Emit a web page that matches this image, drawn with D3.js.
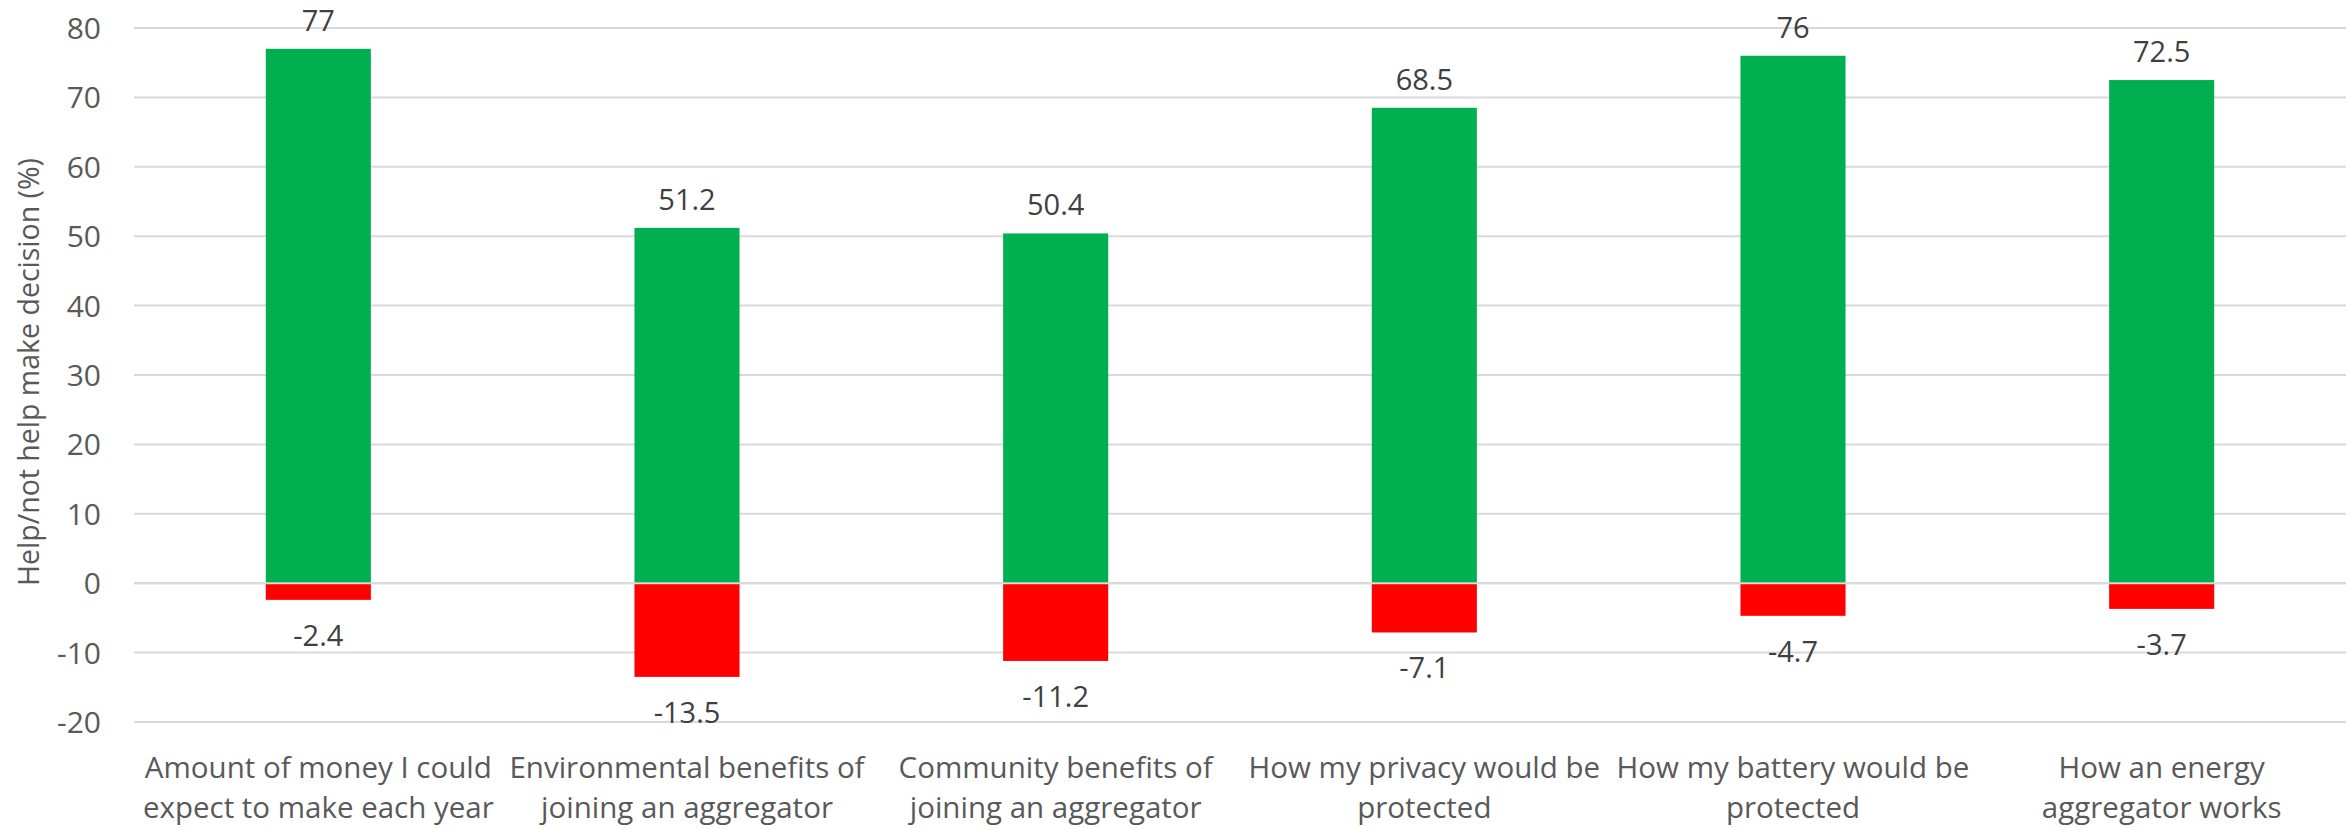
<!DOCTYPE html>
<html>
<head>
<meta charset="utf-8">
<script src="https://cdn.jsdelivr.net/npm/d3@7"></script>
<style>
  html, body { margin: 0; padding: 0; background: #fff; }
  svg { display: block; }
</style>
</head>
<body>
<svg id="chart" width="2351" height="829"></svg>
<script>
const categories = [
  "Amount of money I could\nexpect to make each year",
  "Environmental benefits of\njoining an aggregator",
  "Community benefits of\njoining an aggregator",
  "How my privacy would be\nprotected",
  "How my battery would be\nprotected",
  "How an energy\naggregator works"
];
const helpValues = [77, 51.2, 50.4, 68.5, 76, 72.5];
const notHelpValues = [-2.4, -13.5, -11.2, -7.1, -4.7, -3.7];
const yTicks = [-20, -10, 0, 10, 20, 30, 40, 50, 60, 70, 80];
const yTitle = "Help/not help make decision (%)";

(function () {
const FONT = "'Open Sans', 'Noto Sans', sans-serif";
const svg = d3.select("#chart");
const plotLeft = 134, plotRight = 2346, plotTop = 28, plotBottom = 722;

const x = d3.scaleBand().domain(categories).range([plotLeft, plotRight])
  .paddingInner(0.715).paddingOuter(0.3575);
const y = d3.scaleLinear().domain([-20, 80]).range([plotBottom, plotTop]);

// gridlines
svg.append("g").selectAll("line").data(yTicks).join("line")
  .attr("x1", plotLeft).attr("x2", plotRight)
  .attr("y1", d => y(d)).attr("y2", d => y(d))
  .attr("stroke", "#d9d9d9").attr("stroke-width", 2);

// y axis tick labels
const yAxis = d3.axisLeft(y).tickValues(yTicks).tickSize(0).tickPadding(0)
  .tickFormat(d => String(d));
const ya = svg.append("g").attr("transform", `translate(101,0)`).call(yAxis);
ya.select(".domain").remove();
ya.selectAll("text").attr("font-family", FONT).attr("font-size", 30)
  .attr("fill", "#595959").attr("dy", "0.35em");

// y title
svg.append("text")
  .attr("transform", `translate(28,372) rotate(-90)`)
  .attr("text-anchor", "middle").attr("dominant-baseline", "central")
  .attr("font-family", FONT).attr("font-size", 28.5).attr("fill", "#595959")
  .text(yTitle);

// bars
const bw = x.bandwidth();
svg.append("g").selectAll("rect").data(helpValues).join("rect")
  .attr("x", (d, i) => x(categories[i])).attr("width", bw)
  .attr("y", d => y(d)).attr("height", d => y(0) - y(d))
  .attr("fill", "#00b050");
svg.append("g").selectAll("rect").data(notHelpValues).join("rect")
  .attr("x", (d, i) => x(categories[i])).attr("width", bw)
  .attr("y", y(0)).attr("height", d => y(d) - y(0))
  .attr("fill", "#ff0000");

// zero line on top
svg.append("line").attr("x1", plotLeft).attr("x2", plotRight)
  .attr("y1", y(0)).attr("y2", y(0))
  .attr("stroke", "#d9d9d9").attr("stroke-width", 2);

// data labels
svg.append("g").selectAll("text").data(helpValues).join("text")
  .attr("x", (d, i) => x(categories[i]) + bw / 2)
  .attr("y", d => y(d) - 18)
  .attr("text-anchor", "middle")
  .attr("font-family", FONT).attr("font-size", 29).attr("fill", "#404040")
  .text(d => d);
svg.append("g").selectAll("text").data(notHelpValues).join("text")
  .attr("x", (d, i) => x(categories[i]) + bw / 2)
  .attr("y", d => y(d) + 46)
  .attr("text-anchor", "middle")
  .attr("font-family", FONT).attr("font-size", 29).attr("fill", "#404040")
  .text(d => d);

// category labels
const xAxis = d3.axisBottom(x).tickSize(0).tickFormat("");
const xa = svg.append("g").attr("transform", `translate(0,${plotBottom})`).call(xAxis);
xa.select(".domain").remove();
xa.selectAll(".tick").each(function(d) {
  const t = d3.select(this).append("text")
    .attr("text-anchor", "middle")
    .attr("font-family", FONT).attr("font-size", 29.5).attr("fill", "#595959");
  d.split("\n").forEach((line, i) => {
    t.append("tspan").attr("x", 0).attr("y", 56 + i * 40).text(line);
  });
});
})();
</script>
</body>
</html>
